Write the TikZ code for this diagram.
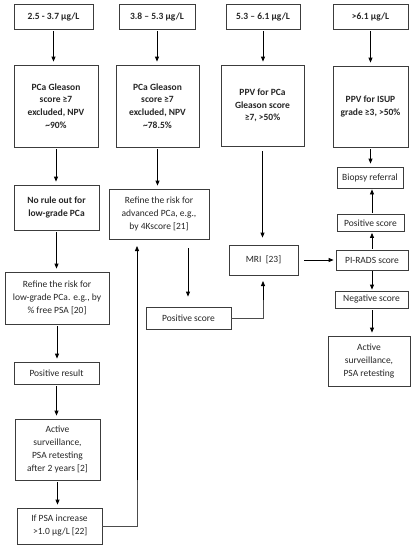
\documentclass[tikz,border=0pt]{standalone}
\usepackage{fontspec}
\setmainfont{Carlito}
\usetikzlibrary{arrows.meta}
\definecolor{boxgray}{HTML}{3C3C3C}
\tikzset{
  box/.style={draw=boxgray, line width=0.8pt, align=center, inner sep=1pt,
    font=\fontsize{9.5}{13}\selectfont, text=black!85},
  bbox/.style={box, font=\fontsize{9.5}{12.7}\selectfont\bfseries},
  arr/.style={-{Triangle[length=5pt,width=4pt]}, line width=0.8pt, black,
    shorten <=2pt, shorten >=3pt},
  conn/.style={line width=0.8pt, black!70},
}
\begin{document}
\begin{tikzpicture}[x=1pt,y=-1pt]
\useasboundingbox (0,0) rectangle (416,550);
% column 1
\node[bbox, minimum width=79pt, minimum height=25pt] (a1) at (53.5,16.5) {2.5 - 3.7 µg/L};
\node[bbox, minimum width=84pt, minimum height=82pt] (a2) at (56,106) {PCa Gleason\\score ≥7\\excluded, NPV\\\textasciitilde90\%};
\node[bbox, minimum width=85pt, minimum height=45pt] (a3) at (56.5,207.5) {No rule out for\\low-grade PCa};
\node[box, minimum width=104pt, minimum height=52pt] (a4) at (57,298) {Refine the risk for\\low-grade PCa. e.g., by\\\% free PSA [20]};
\node[box, minimum width=85pt, minimum height=22pt] (a5) at (56.5,373) {Positive result};
\node[box, minimum width=85pt, minimum height=61pt] (a6) at (57.5,449.5) {Active\\surveillance,\\PSA retesting\\after 2 years [2]};
\node[box, minimum width=85pt, minimum height=36pt] (a7) at (59.5,526) {If PSA increase\\\,>1.0 µg/L [22]};
% column 2
\node[bbox, minimum width=76pt, minimum height=25pt] (b1) at (157,16.5) {3.8 – 5.3 µg/L};
\node[bbox, minimum width=83pt, minimum height=82pt] (b2) at (157.5,106) {PCa Gleason\\score ≥7\\excluded, NPV\\\textasciitilde78.5\%};
\node[box, minimum width=100pt, minimum height=50pt] (b3) at (159,214) {Refine the risk for\\advanced PCa, e.g.,\\by 4Kscore [21]};
\node[box, minimum width=85pt, minimum height=22pt] (b4) at (188.5,318) {Positive score};
% column 3
\node[bbox, minimum width=74pt, minimum height=25pt] (c1) at (263,16.5) {5.3 – 6.1 µg/L};
\node[bbox, minimum width=83pt, minimum height=81pt] (c2) at (262.5,105.5) {PPV for PCa\\Gleason score\\≥7, >50\%};
\node[box, minimum width=69pt, minimum height=30pt] (c3) at (263.5,260) {MRI\ \ [23]};
% column 4
\node[bbox, minimum width=75pt, minimum height=25pt] (d1) at (370.5,16.5) {>6.1 µg/L};
\node[bbox, minimum width=75pt, minimum height=81pt] (d2) at (370.5,106.5) {PPV for ISUP\\grade ≥3, >50\%};
\node[box, minimum width=66pt, minimum height=21pt] (d3) at (370,177.5) {Biopsy referral};
\node[box, minimum width=67pt, minimum height=17pt] (d4) at (370.5,223) {Positive score};
\node[box, minimum width=72pt, minimum height=20pt] (d5) at (372,260) {PI-RADS score};
\node[box, minimum width=73pt, minimum height=17pt] (d6) at (371.5,299.5) {Negative score};
\node[box, minimum width=82pt, minimum height=50pt] (d7) at (369,361) {Active\\surveillance,\\PSA retesting};
% column 1 arrows
\draw[arr] (a1.south) -- (a1.south |- a2.north);
\draw[arr] (a2.south) -- (a2.south |- a3.north);
\draw[arr] (a3.south) -- (a3.south |- a4.north);
\draw[arr] (a4.south) -- (a4.south |- a5.north);
\draw[arr] (a5.south) -- (a5.south |- a6.north);
\draw[arr] (a6.south) -- (a6.south |- a7.north);
\coordinate (u) at (137,239);
\draw[conn] (a7.east) -| (137,480);
\draw[arr, shorten <=0pt, shorten >=7pt] (137,480) -- (u);
% column 2 arrows
\draw[arr] (b1.south) -- (b1.south |- b2.north);
\draw[arr] (b2.south) -- (b2.south |- b3.north);
\coordinate (b3s) at (188,239);
\draw[arr, shorten <=9pt, shorten >=10pt] (b3s) -- (b3s |- b4.north);
\coordinate (m) at (263,275);
\draw[conn] (b4.east) -| (263,300);
\draw[arr, shorten <=0pt, shorten >=6pt] (263,300) -- (m);
% column 3 arrows
\draw[arr] (c1.south) -- (c1.south |- c2.north);
\draw[arr, shorten <=5pt, shorten >=7pt] (c2.south) -- (c2.south |- c3.north);
\draw[arr, shorten <=6pt, shorten >=2pt] (c3.east) -- (c3.east -| d5.west);
% column 4 arrows
\draw[arr] (d1.south) -- (d1.south |- d2.north);
\draw[arr] (d2.south) -- (d2.south |- d3.north);
\coordinate (x4) at (372,0);
\draw[arr, shorten <=1pt, shorten >=1pt] (x4 |- d4.north) -- (x4 |- d3.south);
\draw[arr, shorten <=1pt, shorten >=1pt] (x4 |- d5.north) -- (x4 |- d4.south);
\draw[arr, shorten <=1pt, shorten >=1pt] (x4 |- d5.south) -- (x4 |- d6.north);
\draw[arr] (x4 |- d6.south) -- (x4 |- d7.north);
\end{tikzpicture}
\end{document}
